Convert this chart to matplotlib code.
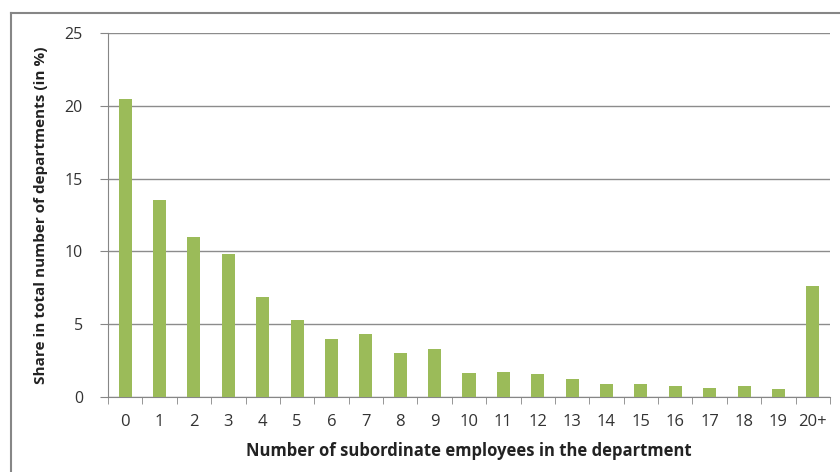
import matplotlib.pyplot as plt
from matplotlib.lines import Line2D
import numpy as np

categories = [str(i) for i in range(20)] + ["20+"]
shares = [20.5, 13.5, 11.0, 9.8, 6.9, 5.3, 4.0, 4.3, 3.0, 3.3,
          1.63, 1.7, 1.58, 1.21, 0.87, 0.92, 0.76, 0.62, 0.76, 0.55, 7.65]
y_ticks = [0, 5, 10, 15, 20, 25]


def main():
    plt.rcParams['font.family'] = ['Open Sans', 'DejaVu Sans']
    fig = plt.figure(figsize=(8.4, 4.72), dpi=100)
    ax = fig.add_axes([108 / 840, 1 - 397 / 472, 722 / 840, 364 / 472])

    x = np.arange(len(categories))
    ax.bar(x, shares, width=0.38, color='#9BBB59', zorder=3)

    ax.set_xlim(-0.5, len(categories) - 0.5)
    ax.set_ylim(0, 25)
    ax.set_yticks(y_ticks)
    ax.set_yticklabels([str(t) for t in y_ticks], fontsize=11.5, color='#333333')
    ax.set_xticks(x)
    ax.set_xticklabels(categories, fontsize=12, color='#333333')
    ax.set_xticks(np.arange(-0.5, len(categories)), minor=True)
    ax.tick_params(axis='x', which='major', length=0, pad=12)
    ax.tick_params(axis='x', which='minor', length=5, color='#868686', direction='out')
    ax.tick_params(axis='y', length=6, color='#868686', pad=12)

    ax.grid(axis='y', color='#8c8c8c', linewidth=1.0, zorder=0)
    for side in ['top', 'right']:
        ax.spines[side].set_visible(False)
    for side in ['left', 'bottom']:
        ax.spines[side].set_color('#868686')

    ax.set_ylabel('Share in total number of departments (in %)', fontsize=11,
                  fontweight='bold', color='#222222', labelpad=12)
    ax.set_xlabel('Number of subordinate employees in the department', fontsize=12,
                  fontweight='bold', color='#222222', labelpad=9)

    # chart frame (left and top edges)
    fig.add_artist(Line2D([11 / 840, 11 / 840], [0, 1 - 13 / 472],
                          transform=fig.transFigure, color='#868686', linewidth=1.5))
    fig.add_artist(Line2D([11 / 840, 1], [1 - 13 / 472, 1 - 13 / 472],
                          transform=fig.transFigure, color='#868686', linewidth=1.5))

    fig.savefig('out.png', dpi=100)


if __name__ == "__main__":
    main()
